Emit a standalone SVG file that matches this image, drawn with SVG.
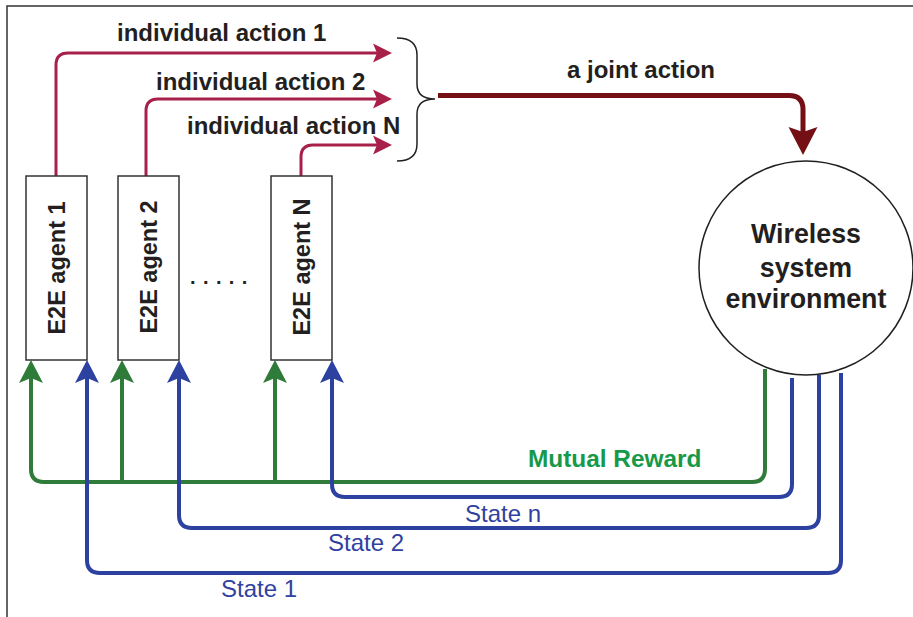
<svg xmlns="http://www.w3.org/2000/svg" width="913" height="617" viewBox="0 0 913 617">
  <style>
    .frame { stroke: #333; stroke-width: 1.5; fill: none; }
    .box { fill: #fff; stroke: #333; stroke-width: 1.5; }
    .bold { font-family: "Liberation Sans", Arial, sans-serif; font-weight: bold; fill: #231f20; }
    .agent { font-size: 23.5px; text-anchor: middle; }
    .act { font-size: 24px; }
    .env { font-size: 26.8px; text-anchor: middle; }
    .state { font-family: "Liberation Sans", Arial, sans-serif; font-size: 24px; fill: #3041a0; }
    .reward { font-family: "Liberation Sans", Arial, sans-serif; font-weight: bold; font-size: 24.4px; fill: #17994a; }
    .red { stroke: #a8204a; stroke-width: 3; fill: none; }
    .joint { stroke: #741015; stroke-width: 5; fill: none; }
    .green { stroke: #2f7b3a; stroke-width: 4; fill: none; }
    .blue { stroke: #2c41a0; stroke-width: 4; fill: none; }
    .brace { stroke: #231f20; stroke-width: 1.5; fill: none; }
  </style>
  <defs>
    <marker id="arrRed" markerUnits="userSpaceOnUse" viewBox="-8 -10 21 20" refX="0" refY="0" markerWidth="21" markerHeight="20" orient="auto">
      <path d="M12,0 L-7,-9.5 L-3,0 L-7,9.5 Z" fill="#a8204a"/>
    </marker>
    <marker id="arrJoint" markerUnits="userSpaceOnUse" viewBox="-13 -15 30 30" refX="0" refY="0" markerWidth="30" markerHeight="30" orient="auto">
      <path d="M16,0 L-12,-14.5 L-7,0 L-12,14.5 Z" fill="#741015"/>
    </marker>
    <marker id="arrGreen" markerUnits="userSpaceOnUse" viewBox="-10 -13 25 26" refX="0" refY="0" markerWidth="25" markerHeight="26" orient="auto">
      <path d="M14,0 L-9,-12 L-4,0 L-9,12 Z" fill="#2f7b3a"/>
    </marker>
    <marker id="arrBlue" markerUnits="userSpaceOnUse" viewBox="-10 -13 25 26" refX="0" refY="0" markerWidth="25" markerHeight="26" orient="auto">
      <path d="M14,0 L-9,-12 L-4,0 L-9,12 Z" fill="#2c41a0"/>
    </marker>
  </defs>

  <rect width="913" height="617" fill="#fff"/>
  <!-- outer frame (top and left edges) -->
  <path class="frame" d="M913,6 H7 V617"/>

  <!-- connectors -->
  <g id="connectors">
    <!-- individual actions -->
    <path class="red" d="M56,176 V65 Q56,53 68,53 H380" marker-end="url(#arrRed)"/>
    <path class="red" d="M146,176 V111 Q146,99 158,99 H380" marker-end="url(#arrRed)"/>
    <path class="red" d="M301,176 V157 Q301,145 313,145 H380" marker-end="url(#arrRed)"/>
    <!-- brace joining the actions -->
    <path class="brace" d="M397,38 Q417,38 417,55 V84 Q417,99 435,99 Q417,99 417,114 V144 Q417,161 397,161"/>
    <!-- joint action to environment -->
    <path class="joint" d="M438,95.5 H789 Q803,95.5 803,109.5 V139" marker-end="url(#arrJoint)"/>
    <!-- mutual reward -->
    <path class="green" d="M765,369 V469 Q765,482 752,482 H44 Q31,482 31,469 V374" marker-end="url(#arrGreen)"/>
    <path class="green" d="M122,482 V374" marker-end="url(#arrGreen)"/>
    <path class="green" d="M275,482 V374" marker-end="url(#arrGreen)"/>
    <!-- states -->
    <path class="blue" d="M792,378 V484 Q792,497 779,497 H345 Q332,497 332,484 V374" marker-end="url(#arrBlue)"/>
    <path class="blue" d="M819,375 V515 Q819,528 806,528 H192 Q179,528 179,515 V374" marker-end="url(#arrBlue)"/>
    <path class="blue" d="M841,373 V560 Q841,573 828,573 H100 Q87,573 87,560 V374" marker-end="url(#arrBlue)"/>
  </g>

  <!-- connector labels -->
  <g id="labels">
    <text class="bold act" x="117" y="41">individual action 1</text>
    <text class="bold act" x="156" y="90">individual action 2</text>
    <text class="bold act" x="187" y="134">individual action N</text>
    <text class="bold act" x="567" y="78">a joint action</text>
    <text class="reward" x="528" y="467">Mutual Reward</text>
    <text class="state" x="465" y="522">State n</text>
    <text class="state" x="328" y="551">State 2</text>
    <text class="state" x="221" y="597">State 1</text>
  </g>

  <!-- agents -->
  <g id="agent1">
    <rect class="box" x="26" y="176" width="61" height="184"/>
    <text class="bold agent" transform="translate(56.5,268) rotate(-90)" x="0" y="8">E2E agent 1</text>
  </g>
  <g id="agent2">
    <rect class="box" x="118" y="176" width="61" height="184"/>
    <text class="bold agent" transform="translate(148.5,267) rotate(-90)" x="0" y="8">E2E agent 2</text>
  </g>
  <g id="ellipsis">
    <text x="190" y="284" font-family="Liberation Sans, Arial, sans-serif" font-weight="bold" font-size="20" fill="#231f20" letter-spacing="7.4">.....</text>
  </g>
  <g id="agentN">
    <rect class="box" x="271" y="176" width="61" height="184"/>
    <text class="bold agent" transform="translate(301.5,267) rotate(-90)" x="0" y="8">E2E agent N</text>
  </g>

  <!-- environment -->
  <g id="environment">
    <circle cx="806" cy="268" r="107" fill="#fff" stroke="#231f20" stroke-width="1.5"/>
    <text class="bold env" x="806" y="243">Wireless</text>
    <text class="bold env" x="806" y="277">system</text>
    <text class="bold env" x="806" y="308">environment</text>
  </g>
</svg>
